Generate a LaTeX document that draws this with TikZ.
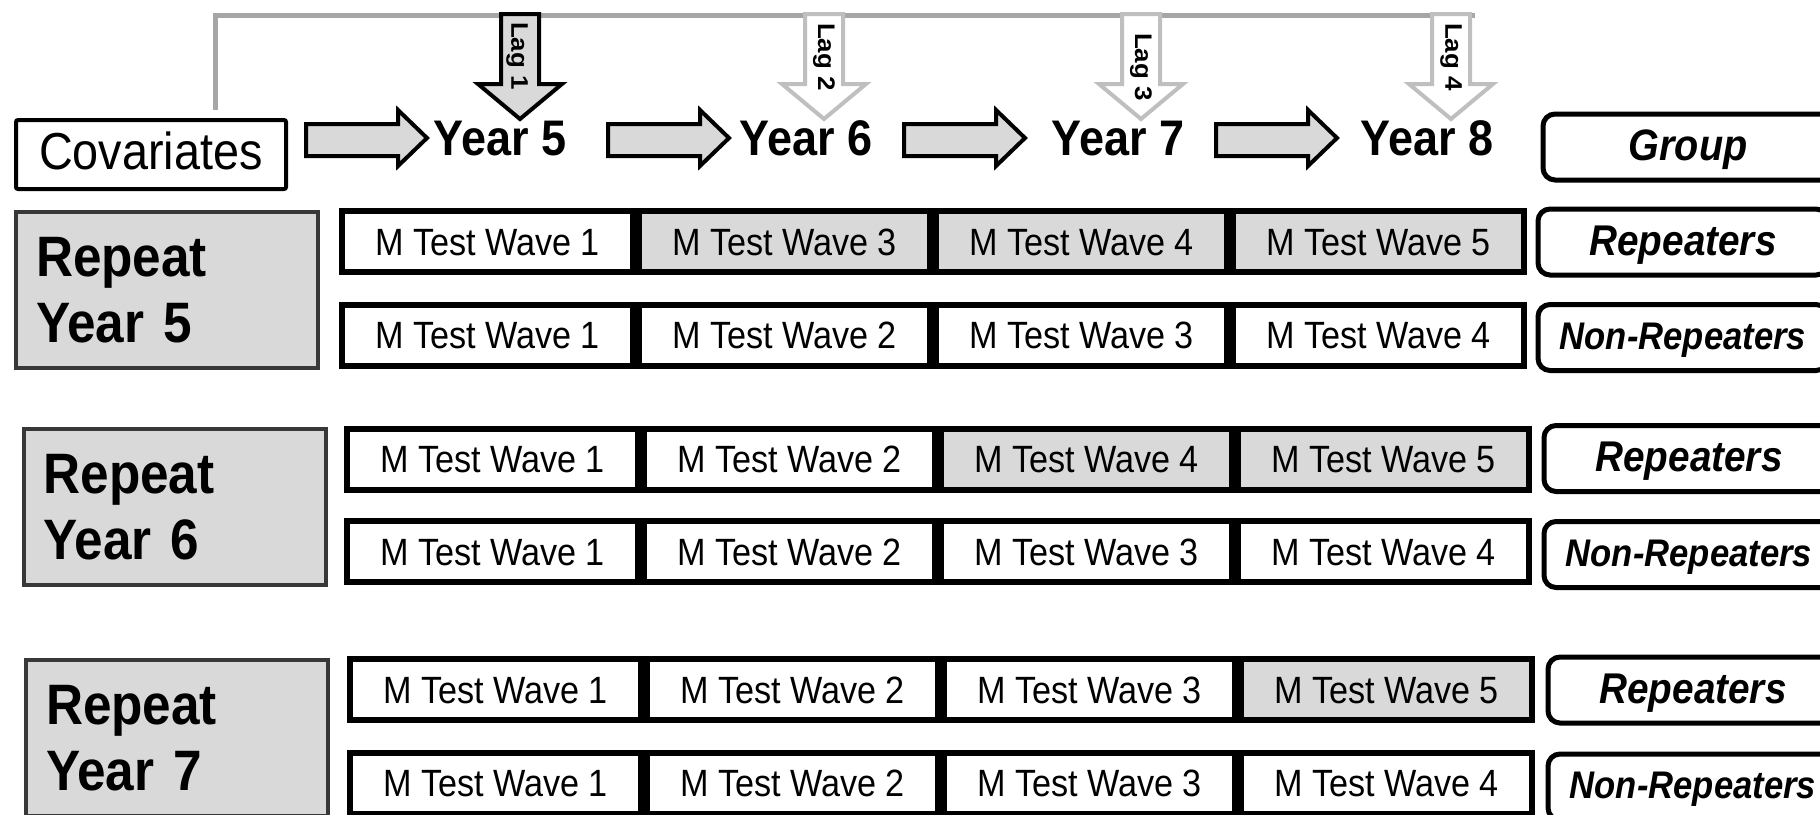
\documentclass[tikz,border=0pt]{standalone}
\usepackage{fontspec}
\setmainfont{Liberation Sans}[FakeStretch=0.9]
\usetikzlibrary{positioning}
\definecolor{boxgrey}{HTML}{D9D9D9}
\definecolor{linegrey}{HTML}{A6A6A6}
\definecolor{laggrey}{HTML}{BFBFBF}
\definecolor{edgegrey}{HTML}{383838}

\begin{document}
\begin{tikzpicture}[x=1pt,y=-1pt,
  wave/.style={draw,line width=6pt,minimum width=291pt,minimum height=61pt,inner sep=0pt,
    font=\fontsize{38}{45}\selectfont,text height=27.2pt,text depth=0pt},
  shaded/.style={fill=boxgrey},
  repeatbox/.style={draw=edgegrey,fill=boxgrey,line width=4pt,minimum width=302pt,minimum height=156pt,
    inner xsep=20pt,text width=262pt,align=left,font=\fontsize{57}{66}\bfseries\selectfont},
  groupbox/.style={draw,fill=white,line width=5pt,rounded corners=12pt,minimum width=290pt,minimum height=66pt,
    inner sep=0pt,text height=30pt,text depth=4pt},
  yeartext/.style={anchor=base,font=\fontsize{50}{58}\bfseries\selectfont},
  yeararrow/.style={draw,line width=4pt,fill=boxgrey,line join=miter},
  lagtext/.style={rotate=-90,inner sep=0pt,font=\fontsize{24}{28}\bfseries\selectfont}]
\path[use as bounding box] (0,0) rectangle (1820,814);
\clip (0,0) rectangle (1820,814);

% header
\node (cov) at (151,154.5) [draw,line width=4pt,rounded corners=2pt,minimum width=270pt,minimum height=69pt,
  inner sep=0pt,text height=37pt,text depth=8pt,font=\fontsize{52}{62}\selectfont] {Covariates};
\node (y5) at (500,155) [yeartext] {Year 5};
\node (y6) at (806,155) [yeartext] {Year 6};
\node (y7) at (1118,155) [yeartext] {Year 7};
\node (y8) at (1427,155) [yeartext] {Year 8};
\node (grp) at (1688,147) [groupbox,text height=31.5pt,font=\fontsize{44}{52}\bfseries\itshape\selectfont] {Group};

\foreach \x in {306,608,904,1216}
  \draw[yeararrow] (\x,124) -- (\x+92,124) -- (\x+92,110) -- (\x+121,138) -- (\x+92,166) -- (\x+92,156) -- (\x,156) -- cycle;

% lags
\coordinate (covtop) at (215,110);
\coordinate (lagend) at (1475,15);
\draw[linegrey,line width=5pt] (covtop) |- (lagend);
\foreach \x/\f/\d in {520/boxgrey/black,824/white/laggrey,1141/white/laggrey,1451/white/laggrey}
  \draw[line width=4pt,fill=\f,draw=\d,line join=miter] (\x-19,14) -- (\x+19,14) -- (\x+19,84) -- (\x+42,84)
    -- (\x,119) -- (\x-42,84) -- (\x-19,84) -- cycle;
\node (lag1) at (517,56) [lagtext] {\scalebox{1.2}[1]{Lag 1}};
\node (lag2) at (824,57) [lagtext] {\scalebox{1.2}[1]{Lag 2}};
\node (lag3) at (1141,67) [lagtext] {\scalebox{1.2}[1]{Lag 3}};
\node (lag4) at (1451,57) [lagtext] {\scalebox{1.2}[1]{Lag 4}};

% repeat year 5
\node (rep5) at (167,290) [repeatbox] {Repeat\\Year 5};
\node (w5a1) at (487.5,241.5) [wave] {M Test Wave 1};
\node (w5a2) [wave,shaded,right=0pt of w5a1] {M Test Wave 3};
\node (w5a3) [wave,shaded,right=0pt of w5a2] {M Test Wave 4};
\node (w5a4) [wave,shaded,right=0pt of w5a3] {M Test Wave 5};
\node (w5b1) at (487.5,335) [wave] {M Test Wave 1};
\node (w5b2) [wave,right=0pt of w5b1] {M Test Wave 2};
\node (w5b3) [wave,right=0pt of w5b2] {M Test Wave 3};
\node (w5b4) [wave,right=0pt of w5b3] {M Test Wave 4};
\node (g5a) at (1683,242) [groupbox,font=\fontsize{43}{52}\bfseries\itshape\selectfont] {Repeaters};
\node (g5b) at (1683,337.5) [groupbox,text height=27.6pt,font=\fontsize{38.5}{46}\bfseries\itshape\selectfont] {Non-Repeaters};

% repeat year 6
\node (rep6) at (174.5,507) [repeatbox] {Repeat\\Year 6};
\node (w6a1) at (492.5,459) [wave] {M Test Wave 1};
\node (w6a2) [wave,right=0pt of w6a1] {M Test Wave 2};
\node (w6a3) [wave,shaded,right=0pt of w6a2] {M Test Wave 4};
\node (w6a4) [wave,shaded,right=0pt of w6a3] {M Test Wave 5};
\node (w6b1) at (492.5,551.5) [wave] {M Test Wave 1};
\node (w6b2) [wave,right=0pt of w6b1] {M Test Wave 2};
\node (w6b3) [wave,right=0pt of w6b2] {M Test Wave 3};
\node (w6b4) [wave,right=0pt of w6b3] {M Test Wave 4};
\node (g6a) at (1689,458.5) [groupbox,font=\fontsize{43}{52}\bfseries\itshape\selectfont] {Repeaters};
\node (g6b) at (1689,554.5) [groupbox,text height=27.6pt,font=\fontsize{38.5}{46}\bfseries\itshape\selectfont] {Non-Repeaters};

% repeat year 7
\node (rep7) at (177,738) [repeatbox] {Repeat\\Year 7};
\node (w7a1) at (495.5,689.5) [wave] {M Test Wave 1};
\node (w7a2) [wave,right=0pt of w7a1] {M Test Wave 2};
\node (w7a3) [wave,right=0pt of w7a2] {M Test Wave 3};
\node (w7a4) [wave,shaded,right=0pt of w7a3] {M Test Wave 5};
\node (w7b1) at (495.5,783) [wave] {M Test Wave 1};
\node (w7b2) [wave,right=0pt of w7b1] {M Test Wave 2};
\node (w7b3) [wave,right=0pt of w7b2] {M Test Wave 3};
\node (w7b4) [wave,right=0pt of w7b3] {M Test Wave 4};
\node (g7a) at (1693,690) [groupbox,font=\fontsize{43}{52}\bfseries\itshape\selectfont] {Repeaters};
\node (g7b) at (1693,787) [groupbox,text height=27.6pt,font=\fontsize{38.5}{46}\bfseries\itshape\selectfont] {Non-Repeaters};
\end{tikzpicture}
\end{document}
